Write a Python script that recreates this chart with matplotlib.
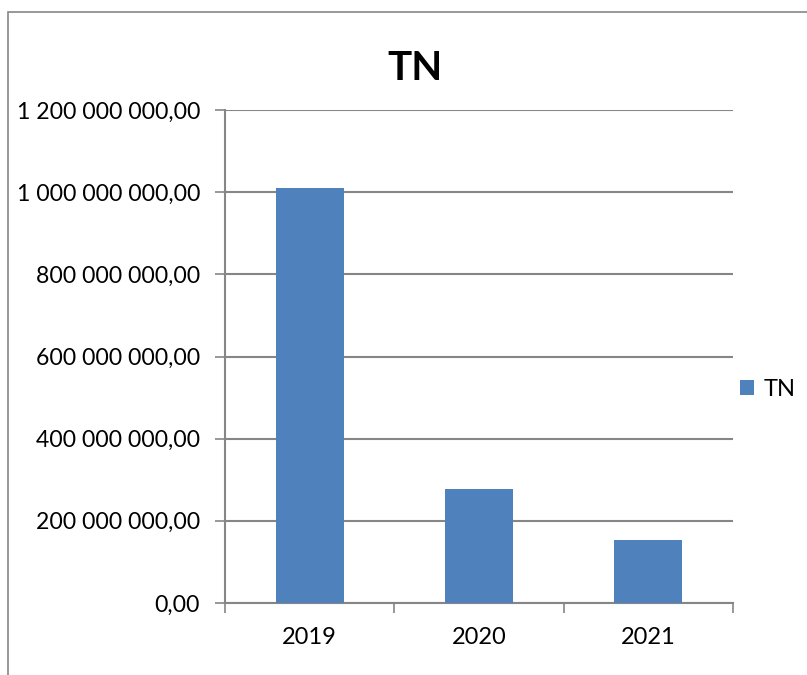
import matplotlib
matplotlib.use('Agg')
import matplotlib.pyplot as plt
from matplotlib.patches import Rectangle
from matplotlib.ticker import FuncFormatter, MultipleLocator

years = ['2019', '2020', '2021']
tn_values = [1010000000, 278000000, 154000000]

W, H = 807, 675
fig = plt.figure(figsize=(W / 100, H / 100), dpi=100)
plt.rcParams['font.family'] = ['Lato', 'DejaVu Sans']

# outer chart border (partially cut off on right/bottom)
fig.patches.append(Rectangle((8 / W, -0.05), 1.2, 1 - 12 / H + 0.05,
                             transform=fig.transFigure, fill=False,
                             edgecolor='#868686', lw=1.2))

ax = fig.add_axes([225 / W, 1 - 603 / H, (733 - 225) / W, (603 - 110) / H])

grey = '#868686'
x = range(len(years))
ax.bar(x, tn_values, width=0.4, color='#4F81BD', label='TN', zorder=3)

ax.set_xlim(-0.5, len(years) - 0.5)
ax.set_ylim(0, 1200000000)
ax.yaxis.set_major_locator(MultipleLocator(200000000))


def fmt(v, pos):
    s = f"{v:,.2f}"
    return s.replace(',', ' ').replace('.', ',')


ax.yaxis.set_major_formatter(FuncFormatter(fmt))
ax.grid(axis='y', color=grey, lw=1.5, zorder=0)

ax.set_xticks([-0.5, 0.5, 1.5, 2.5], minor=False)
ax.set_xticklabels([])
ax.set_xticks(list(x), minor=True)
ax.set_xticklabels(years, minor=True)
ax.tick_params(axis='x', which='major', length=7, width=1.2, color=grey)
ax.tick_params(axis='x', which='minor', length=0, pad=17, labelsize=17)
ax.tick_params(axis='y', length=7, width=1.2, color=grey, labelsize=16.6, pad=11)

for side in ['top', 'right']:
    ax.spines[side].set_visible(False)
for side in ['left', 'bottom']:
    ax.spines[side].set_color(grey)
    ax.spines[side].set_linewidth(1.5)

fig.text(415 / W, 1 - 68 / H, 'TN', ha='center', va='center',
         fontsize=29, fontweight='bold')

ax.legend(loc='center left', bbox_to_anchor=(740 / W, 1 - 389 / H),
          bbox_transform=fig.transFigure, frameon=False, fontsize=17,
          handlelength=0.6, handleheight=0.6, handletextpad=0.4,
          borderpad=0, borderaxespad=0)

fig.savefig('out.png', dpi=100)
